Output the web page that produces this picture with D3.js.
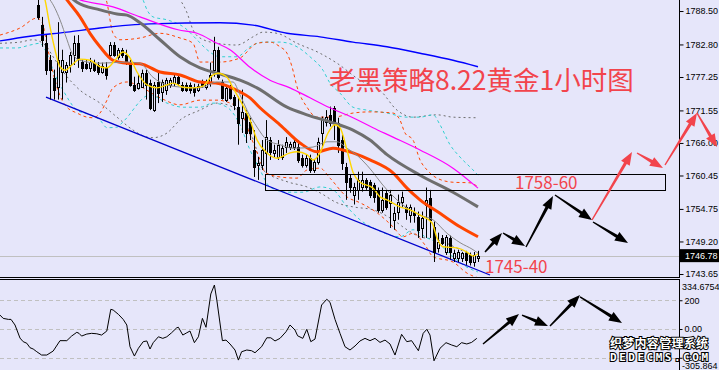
<!DOCTYPE html>
<html lang="zh">
<head>
<meta charset="UTF-8" />
<title>老黑策略8.22黄金1小时图</title>
<script src="https://cdn.jsdelivr.net/npm/d3@7"></script>
<style>
  body { margin: 0; background: #e6e6fa; }
  svg { display: block; font-family: "Liberation Sans", Arial, sans-serif; }
</style>
</head>
<body>
<svg id="chart" width="719" height="370"></svg>
<script>
// XAUUSD H1 candles, [open, high, low, close], bar 0 = first visible bar
const candles = [
  [1789.5,1791.5,1787.0,1787.5],[1786.1,1787.5,1782.4,1783.6],[1783.1,1784.4,1777.6,1778.5],[1780.2,1781.0,1773.4,1778.5],
  [1777.1,1778.5,1773.4,1775.1],[1775.6,1786.6,1773.4,1780.2],[1778.1,1781.9,1773.4,1780.2],[1778.1,1779.8,1776.3,1779.3],
  [1779.3,1781.5,1778.0,1781.0],[1781.0,1784.3,1779.3,1783.1],[1783.1,1784.4,1778.8,1780.5],[1779.8,1780.2,1778.1,1778.8],
  [1779.5,1780.2,1778.5,1778.8],[1778.8,1780.5,1778.1,1779.8],[1779.7,1780.2,1778.1,1778.5],[1779.3,1779.8,1777.6,1778.1],
  [1778.1,1779.7,1777.8,1779.2],[1779.0,1779.8,1776.8,1777.6],[1781.0,1783.2,1780.7,1782.7],[1782.7,1783.2,1780.7,1781.0],
  [1780.7,1782.2,1780.2,1781.9],[1781.9,1782.2,1780.5,1781.0],[1781.0,1781.9,1779.3,1779.8],[1779.7,1780.2,1775.6,1775.9],
  [1775.9,1777.3,1774.7,1775.1],[1775.4,1777.6,1775.1,1776.3],[1775.6,1778.5,1775.4,1778.0],[1778.0,1778.5,1773.4,1775.9],
  [1776.3,1776.8,1771.6,1772.0],[1771.6,1776.4,1771.3,1775.9],[1776.4,1778.0,1772.8,1774.5],[1774.7,1776.8,1773.0,1776.4],
  [1775.1,1777.1,1774.2,1776.8],[1775.9,1777.1,1775.4,1776.8],[1776.3,1777.6,1775.7,1777.3],[1777.3,1777.6,1775.7,1776.3],
  [1775.9,1776.4,1774.7,1775.1],[1775.9,1776.3,1774.7,1775.1],[1775.9,1776.3,1774.4,1775.1],[1775.6,1776.1,1773.9,1774.7],
  [1775.1,1776.1,1774.7,1775.7],[1776.4,1776.8,1775.4,1775.9],[1775.6,1776.8,1775.1,1776.3],[1776.3,1779.7,1775.6,1777.6],
  [1778.5,1784.1,1777.3,1781.9],[1781.9,1782.4,1776.8,1777.3],[1776.4,1776.8,1773.4,1773.7],[1773.4,1775.9,1773.0,1775.4],
  [1775.6,1775.9,1773.4,1773.7],[1773.9,1774.2,1771.6,1772.5],[1772.2,1773.9,1765.7,1769.4],[1770.3,1775.1,1767.7,1771.3],
  [1771.1,1771.6,1766.0,1767.7],[1769.6,1770.3,1766.5,1767.7],[1764.8,1768.2,1760.2,1761.9],[1762.3,1763.6,1759.7,1762.6],
  [1762.3,1766.5,1761.4,1764.8],[1764.3,1769.9,1760.9,1767.0],[1766.5,1767.0,1763.1,1764.5],[1764.3,1765.7,1763.6,1764.8],
  [1763.6,1766.5,1763.1,1765.7],[1763.6,1765.7,1763.1,1765.2],[1765.3,1767.0,1764.3,1766.2],[1765.3,1766.2,1764.8,1765.9],
  [1765.3,1766.5,1764.8,1766.2],[1765.3,1766.5,1762.6,1763.1],[1763.5,1764.0,1761.8,1762.3],[1762.3,1764.0,1761.8,1763.5],
  [1763.5,1764.0,1760.9,1761.4],[1761.4,1763.1,1760.9,1762.8],[1762.8,1766.9,1762.3,1766.2],[1767.7,1770.5,1765.3,1769.9],
  [1769.6,1771.6,1768.8,1770.5],[1770.8,1772.2,1768.8,1769.4],[1772.0,1772.3,1766.5,1769.4],[1769.4,1770.3,1764.3,1765.7],
  [1766.5,1767.4,1761.4,1762.6],[1761.9,1762.6,1756.3,1759.4],[1760.0,1760.6,1757.5,1758.5],[1757.2,1759.2,1755.5,1758.5],
  [1758.0,1761.1,1756.3,1759.7],[1758.5,1761.1,1757.7,1759.7],[1759.7,1760.0,1758.0,1758.5],[1759.4,1759.7,1756.6,1757.2],
  [1758.9,1759.2,1755.8,1756.8],[1758.0,1758.4,1754.1,1754.6],[1754.6,1758.4,1754.1,1756.3],[1757.5,1758.0,1754.6,1755.1],
  [1755.8,1758.0,1751.5,1757.2],[1752.9,1755.1,1751.2,1754.1],[1754.3,1757.2,1752.9,1756.0],[1756.0,1757.7,1755.1,1756.8],
  [1755.0,1755.5,1752.9,1754.3],[1753.7,1755.5,1752.4,1755.0],[1754.3,1755.0,1752.4,1753.7],[1753.4,1754.3,1749.8,1751.2],
  [1751.5,1754.3,1749.8,1753.2],[1755.5,1758.4,1749.8,1756.3],[1756.6,1758.0,1749.8,1752.9],[1751.7,1752.6,1745.7,1747.4],
  [1748.1,1750.7,1747.3,1749.1],[1749.8,1750.3,1748.6,1749.0],[1747.4,1750.3,1746.9,1750.0],[1749.8,1750.2,1746.1,1747.4],
  [1746.4,1747.8,1745.7,1747.3],[1746.4,1747.8,1745.7,1747.4],[1746.4,1747.4,1745.7,1747.3],[1747.3,1747.6,1745.2,1746.1],
  [1746.9,1747.3,1745.1,1745.7],[1745.7,1747.4,1744.9,1746.9],[1746.4,1747.6,1745.7,1746.78]
];
const lastPrice = 1746.78;
const priceRange = [1743.14, 1790.38];
const priceTicks = [1788.50, 1782.80, 1777.25, 1771.55, 1766.00, 1760.45, 1754.75, 1749.20, 1743.65];

// indicator lines, [bar, price]
const maYellow = [[1,1792.1],[1.75,1790.4],[3,1785.8],[4.25,1781.9],[5.5,1779.0],[6.75,1778.4],[8.5,1779.3],[10.5,1780.3],[13,1780.1],[15.5,1779.0],[17.25,1778.8],[19.25,1780.1],[21.25,1781.5],[23,1780.5],[24.75,1778.1],[27.25,1775.9],[29.75,1775.4],[32.25,1775.9],[33.75,1776.2],[36.25,1775.5],[38.75,1775.4],[41.25,1775.7],[43.75,1777.6],[45,1777.9],[47.25,1777.2],[48.75,1775.4],[50.5,1773.3],[53,1769.9],[54.75,1766.5],[57.25,1764.3],[59.75,1763.4],[63,1764.3],[64.75,1764.5],[67.25,1764.0],[68.75,1763.1],[70.5,1764.3],[72.5,1767.7],[74.25,1769.1],[75.5,1768.6],[77.25,1764.8],[78.75,1761.0],[80.5,1759.3],[83.75,1758.3],[85.5,1756.8],[87.25,1756.3],[90.5,1755.1],[93,1754.6],[95.5,1753.7],[98.5,1752.4],[99.75,1749.8],[101.25,1748.3],[104.75,1748.1],[107.25,1747.4],[108.75,1746.7],[110,1747.1]];
const maGreyThin = [[1.75,1791.2],[3,1790.4],[5.5,1787.0],[7.25,1783.6],[8.5,1781.3],[10.5,1780.1],[15.5,1779.6],[22.25,1779.8],[25.5,1779.6],[28.75,1777.2],[32.25,1775.9],[36.25,1775.5],[40.5,1775.4],[44.75,1776.4],[48.75,1776.4],[50.5,1774.2],[52.25,1771.6],[54.75,1768.7],[57.25,1766.5],[60.5,1765.7],[63.75,1765.1],[68.75,1765.3],[72.25,1766.2],[74.75,1766.2],[77.25,1765.1],[79.75,1763.9],[82.25,1762.2],[87.25,1758.0],[92.25,1754.9],[95.5,1753.7],[98.75,1752.9],[102.25,1750.6],[105.5,1749.0],[108.75,1747.8],[110,1747.2]];
const maOrange = [[5.5,1792.1],[7.25,1790.4],[10.5,1787.5],[13,1784.7],[15.5,1782.4],[18.75,1780.1],[22.25,1779.6],[25.5,1779.5],[30.5,1778.1],[35.5,1777.6],[40.5,1776.4],[45.5,1776.1],[50.5,1774.7],[53,1773.7],[55.5,1772.0],[60.5,1769.1],[65.5,1766.0],[69.75,1764.5],[73.75,1765.1],[76.25,1764.8],[78.75,1764.3],[83,1763.1],[88.75,1760.9],[92.25,1758.3],[95.5,1756.3],[100.5,1754.0],[105.5,1751.7],[110,1750.0]];
const maDarkGrey = [[6.75,1791.7],[9.75,1790.0],[15.5,1788.7],[19.75,1788.0],[22.25,1787.8],[25.5,1786.5],[30.5,1783.6],[35.5,1780.7],[40.5,1778.8],[44.75,1777.9],[50.5,1776.7],[54.75,1775.4],[62.25,1772.1],[67.25,1770.8],[73,1769.6],[78.75,1768.2],[83,1766.5],[87.25,1764.0],[95.5,1760.5],[103.75,1757.6],[110,1755.1]];
const maMagenta = [[5.5,1791.7],[10.5,1790.4],[18.75,1789.2],[25.5,1787.5],[35,1785.3],[39.75,1784.7],[44.75,1783.0],[48,1781.9],[53,1778.9],[58,1776.7],[63,1775.4],[68,1773.7],[73,1772.0],[78.75,1770.3],[83.75,1768.6],[88.75,1767.0],[95.5,1764.8],[103.75,1761.7],[110,1758.3]];
const maBlue = [[-9.5,1783.4],[-2,1784.2],[7.25,1784.9],[15.5,1785.6],[28,1786.3],[45.5,1786.5],[53.75,1786.1],[62.25,1784.7],[70.5,1784.1],[78.75,1783.2],[87.25,1782.4],[95.5,1781.3],[103.75,1780.1],[110,1779.0]];

// envelope bands (dashed)
const bandOrangeUp = [[16.75,1791.2],[17.25,1789.9],[18.75,1784.7],[20.5,1783.6],[25.5,1783.9],[30.5,1784.7],[35.5,1783.9],[38.75,1783.0],[40.5,1779.8],[45.5,1779.8],[50.5,1780.5],[54.75,1783.0],[58,1783.2],[60.5,1782.4],[62.25,1781.3],[63.5,1779.0],[64.75,1775.6],[67.25,1772.1],[69.75,1770.4],[73.75,1770.4],[78.75,1771.1],[83,1771.3],[88.75,1771.1],[90.5,1769.9],[91.75,1767.7],[93.75,1766.5],[95.5,1763.1],[97.25,1761.4],[99.75,1760.0],[103.75,1759.3],[108,1759.2],[110,1758.5]];
const bandOrangeLow = [[-9.5,1784.4],[-4.5,1785.6],[-0.25,1787.3],[1,1786.6],[2.5,1781.9],[4.25,1776.7],[6,1773.3],[7.25,1772.1],[9.75,1771.1],[12.25,1770.4],[13.75,1770.3],[15.5,1771.1],[17.25,1773.3],[18.75,1775.4],[22.25,1776.4],[24.75,1775.9],[30.5,1773.7],[35.5,1772.5],[40.5,1773.3],[44.75,1773.3],[47.25,1773.0],[50.5,1771.6],[53,1767.4],[55.5,1763.1],[56.75,1761.0],[60.5,1760.2],[64.75,1760.0],[67.25,1761.4],[70.5,1761.7],[73,1760.0],[77.25,1756.8],[80.5,1755.8],[84.75,1754.1],[88.75,1751.7],[91.25,1750.0],[93.75,1750.6],[96.75,1748.6],[98.75,1746.6],[103.75,1745.7],[107.25,1743.8],[110,1743.0]];
const bandCyanUp = [[25.5,1791.2],[26.25,1790.4],[27.25,1788.7],[28.75,1787.5],[32.25,1787.0],[36.75,1785.6],[39.75,1783.6],[42.25,1781.9],[45.5,1780.7],[49.75,1780.7],[53,1782.4],[56.25,1783.2],[60.5,1783.2],[64.75,1782.4],[68,1780.7],[71.25,1778.4],[73,1776.2],[75.5,1774.5],[78.75,1772.1],[82.25,1771.6],[87.25,1771.1],[92.25,1770.4],[95.5,1770.4],[98.75,1770.8],[100.5,1769.1],[103,1765.7],[105.5,1763.6],[108.75,1761.4],[110,1760.5]];
const bandCyanLow = [[-9.5,1782.2],[-5.25,1782.2],[-2,1782.7],[0.5,1783.0],[1.75,1781.9],[4.25,1777.6],[6.25,1775.0],[9.75,1771.6],[13,1770.8],[15.5,1769.9],[17.25,1768.6],[19.75,1768.7],[21.25,1769.6],[28,1774.2],[32.25,1772.8],[36.25,1772.1],[40.5,1772.1],[43.75,1772.8],[47.25,1772.1],[50.5,1769.1],[53,1764.8],[55.5,1761.4],[58,1758.5],[62.25,1757.6],[66.25,1757.6],[70.5,1758.5],[73.75,1758.0],[77.25,1755.1],[80.5,1752.9],[84.75,1751.2],[90.5,1750.0],[93.75,1751.2],[97.25,1749.8],[99.75,1749.0],[103.75,1746.6],[107.25,1744.8],[110,1744.0]];
const bandGreyUp = [[34.25,1791.2],[35.5,1790.4],[37.25,1788.2],[38.75,1785.3],[40.5,1783.9],[44.75,1783.0],[49.75,1782.7],[53.75,1784.1],[56.25,1784.9],[59.75,1784.7],[64.75,1783.0],[70.5,1781.3],[74.75,1779.6],[80.5,1776.7],[85.5,1775.0],[89.75,1771.6],[93.75,1770.4],[99.75,1770.8],[103.75,1770.4],[109.75,1770.3]];
const bandGreyLow = [[-9.5,1783.0],[-4.5,1783.2],[-1.25,1783.6],[1.75,1782.7],[4.25,1780.2],[7.25,1777.3],[10.5,1775.0],[15.5,1772.8],[19.75,1770.4],[23.75,1768.2],[27.25,1767.0],[28.75,1766.9],[32.25,1767.7],[35.5,1769.9],[40.5,1771.6],[44.75,1772.8],[48.75,1772.1],[51.75,1769.9],[54.25,1765.7],[56.25,1761.4],[62.25,1759.4],[67.25,1758.5],[70.5,1757.5],[74.75,1755.8],[78.75,1755.1],[83.75,1754.6],[88.75,1752.9],[92.25,1751.2],[95.5,1750.0],[99.75,1749.5],[105.5,1747.8],[108.75,1746.6],[110,1746.2]];

// CCI sub window, [bar, value]
const cci = [[-9.5,97],[-8.7,74],[-7.4,67],[-6.75,67],[-5.75,28],[-4.5,-63],[-3.7,-88],[-2.8,-99],[-2,-130],[-1.2,-139],[-0.3,-158],[0.9,-181],[2.2,-181],[3.8,-153],[5.5,-81],[7.2,-81],[8.4,-49],[9.7,-23],[10.25,-30],[10.9,-49],[12.2,-35],[13.4,-30],[14.7,-33],[15.9,-42],[17.2,-14],[18.2,137],[18.8,132],[20.1,102],[21.3,67],[22.2,28],[23,-123],[24.1,-188],[25.1,-134],[26.3,-88],[27.2,-83],[28,-139],[28.8,-95],[30.1,-54],[31.2,-65],[32.2,-54],[33.4,-26],[34.7,9],[35.1,12],[36.2,-42],[37.2,-26],[38,-14],[39.1,-95],[40.1,-54],[41.1,74],[42,12],[43.2,244],[44.1,306],[44.7,202],[46.1,-81],[47,-77],[48,-104],[49.25,-146],[50.1,-216],[50.9,-158],[52.2,-146],[53.4,-151],[54.25,-165],[55.9,-123],[57.2,-61],[58.2,-61],[59.25,-83],[60.5,-65],[62,-19],[63,28],[64.25,-7],[64.9,-47],[66.2,-65],[67.2,-2],[68.2,-88],[69.25,-70],[70.9,167],[72.2,207],[73,186],[74.25,67],[75.5,-30],[76.75,-123],[78,-146],[79.25,-118],[80.5,-83],[81.75,-65],[83,-81],[84.25,-65],[85.5,-93],[86.75,-77],[88,-104],[89.25,-181],[90.9,-37],[92.2,-88],[93.4,-81],[95.1,-151],[96.3,-30],[97.2,-2],[98,-42],[99,-221],[100.5,-134],[102,-95],[103.4,-111],[104.7,-123],[105.9,-95],[107.2,-104],[108.4,-93],[109.7,-65]];
const cciRange = [-305.864, 334.6754];
const cciTicks = [200, 0, -200];

// drawings: channel line, zone box, arrows [bar1, price1, bar2, price2]
const channel = [[2, 1773.83], [113, 1743.48]];
const zone = { bars: [56.75, 156.75], prices: [1757.9, 1760.7] };
const blackArrows = [[111.75,1747.4,116,1750.64],[116.25,1750.64,121.75,1748.42],[122,1748.26,128.75,1756.95],[129.25,1757.12,138.5,1752.86],[138.75,1752.52,147.5,1748.94]];
const redArrows = [[138.5,1752.86,148.5,1764.46],[149.75,1764.29,156.25,1761.73],[156.75,1762.24,164.75,1771.11],[164.75,1771.11,169.75,1765.3]];
const cciArrows = [[111.25,-104,120.25,104],[121,97,127.5,21],[128,21,135.5,237],[135.5,223,146,42]];

const W = 719, H = 370, plotRight = 679, mainBottom = 277;
const bg = "#e6e6fa", red = "#f2444c";

const svg = d3.select("#chart");
svg.append("rect").attr("width", W).attr("height", H).attr("fill", bg);

const x = d3.scaleLinear().domain([0, 110]).range([38, 478]);
const y = d3.scaleLinear().domain(priceRange).range([mainBottom, 0]);
const yc = d3.scaleLinear().domain(cciRange).range([373, 280.9]);

const defs = svg.append("defs");
defs.append("clipPath").attr("id", "clipMain")
  .append("rect").attr("x", 0).attr("y", 0).attr("width", plotRight).attr("height", mainBottom);
defs.append("clipPath").attr("id", "clipCci")
  .append("rect").attr("x", 0).attr("y", 280).attr("width", plotRight).attr("height", 95);

const main = svg.append("g").attr("clip-path", "url(#clipMain)");

// current price line
main.append("line")
  .attr("x1", 0).attr("x2", plotRight)
  .attr("y1", Math.round(y(lastPrice)) + 0.5).attr("y2", Math.round(y(lastPrice)) + 0.5)
  .attr("stroke", "#c0c0c0");

const line = d3.line().x(d => x(d[0])).y(d => y(d[1])).curve(d3.curveMonotoneX);

// dashed bands
[
  [bandGreyUp, "#6e6e6e", "2,3"], [bandGreyLow, "#6e6e6e", "2,3"],
  [bandCyanUp, "#30d0d0", "3,3"], [bandCyanLow, "#30d0d0", "3,3"],
  [bandOrangeUp, "#ff4500", "3,3"], [bandOrangeLow, "#ff4500", "3,3"]
].forEach(([d, c, dash]) => {
  main.append("path").attr("d", line(d)).attr("fill", "none")
    .attr("stroke", c).attr("stroke-width", 1).attr("stroke-dasharray", dash);
});

// channel line
main.append("line")
  .attr("x1", x(channel[0][0])).attr("y1", y(channel[0][1]))
  .attr("x2", x(channel[1][0])).attr("y2", y(channel[1][1]))
  .attr("stroke", "#0000cd").attr("stroke-width", 1.3);

// candles
const cg = main.append("g");
candles.forEach((c, i) => {
  const [o, h, l, cl] = c;
  const cx = Math.round(x(i));
  cg.append("line")
    .attr("x1", cx + 0.5).attr("x2", cx + 0.5)
    .attr("y1", y(h)).attr("y2", y(l))
    .attr("stroke", "#000");
  const top = Math.round(y(Math.max(o, cl))), bot = Math.round(y(Math.min(o, cl)));
  cg.append("rect")
    .attr("x", cx - 0.5).attr("y", top + 0.5)
    .attr("width", 2).attr("height", Math.max(bot - top, 1))
    .attr("fill", cl < o ? "#000" : bg)
    .attr("stroke", "#000");
});

// moving averages
[
  [maBlue, "#0000ff", 1.4], [maMagenta, "#ff00ff", 1.2], [maDarkGrey, "#6e6e6e", 3],
  [maOrange, "#ff4500", 3], [maGreyThin, "#8a8a8a", 1], [maYellow, "#ffd700", 1.4]
].forEach(([d, c, w]) => {
  main.append("path").attr("d", line(d)).attr("fill", "none")
    .attr("stroke", c).attr("stroke-width", w);
});

// zone rectangle
svg.append("rect")
  .attr("x", Math.round(x(zone.bars[0])) + 0.5).attr("y", Math.round(y(zone.prices[1])) + 0.5)
  .attr("width", Math.round(x(zone.bars[1]) - x(zone.bars[0])))
  .attr("height", Math.round(y(zone.prices[0]) - y(zone.prices[1])))
  .attr("fill", "none").attr("stroke", "#000");

// panel borders
svg.append("line").attr("x1", 0).attr("x2", plotRight).attr("y1", 277.5).attr("y2", 277.5).attr("stroke", "#000");
svg.append("line").attr("x1", 0).attr("x2", plotRight).attr("y1", 279.5).attr("y2", 279.5).attr("stroke", "#000");

// price axis
const ax = svg.append("g").attr("transform", `translate(${plotRight + 0.5},0)`)
  .call(d3.axisRight(y).tickValues(priceTicks).tickFormat(d3.format(".2f")).tickSize(4).tickSizeOuter(0).tickPadding(2));
ax.select(".domain").attr("d", `M0,0V${mainBottom + 1}`);
ax.selectAll("text").attr("font-size", 9).attr("font-family", "Liberation Sans, Arial, sans-serif").attr("fill", "#000");

// last price tag
const ly = y(lastPrice);
svg.append("rect").attr("x", 680).attr("y", ly - 6.5).attr("width", 40).attr("height", 13).attr("fill", "#000");
svg.append("text").attr("x", 685).attr("y", ly).attr("dy", "0.35em")
  .attr("font-size", 9).attr("fill", "#fff")
  .text(d3.format(".2f")(lastPrice));

// CCI panel
const sub = svg.append("g").attr("clip-path", "url(#clipCci)");
cciTicks.forEach(v => {
  sub.append("line").attr("x1", 0).attr("x2", plotRight)
    .attr("y1", Math.round(yc(v)) + 0.5).attr("y2", Math.round(yc(v)) + 0.5)
    .attr("stroke", "#c0c0c0").attr("stroke-dasharray", "4,3");
});
sub.append("path")
  .attr("d", d3.line().x(d => x(d[0])).y(d => yc(d[1]))(cci))
  .attr("fill", "none").attr("stroke", "#000").attr("stroke-width", 1);

const cax = svg.append("g").attr("transform", `translate(${plotRight + 0.5},0)`)
  .call(d3.axisRight(yc).tickValues(cciTicks).tickFormat(d => d === 0 ? "0.00" : d).tickSize(3).tickSizeOuter(0).tickPadding(2));
cax.select(".domain").attr("d", `M0,279V${H}`);
cax.selectAll("text").attr("font-size", 9).attr("font-family", "Liberation Sans, Arial, sans-serif").attr("fill", "#000");
svg.append("text").attr("x", 682).attr("y", 287).attr("dy", "0.35em").attr("font-size", 9).text(cciRange[1]);
svg.append("text").attr("x", 682).attr("y", 366).attr("dy", "0.35em").attr("font-size", 9).text(cciRange[0]);

// arrows
function arrow(x1, y1, x2, y2, color) {
  const dx = x2 - x1, dy = y2 - y1, len = Math.hypot(dx, dy);
  const ux = dx / len, uy = dy / len, nx = -uy, ny = ux;
  const hl = 13, hw = 5, w0 = 0.7, w1 = 1.6;
  const bx = x2 - ux * hl, by = y2 - uy * hl;
  const pts = [
    [x1 + nx * w0, y1 + ny * w0], [bx + nx * w1, by + ny * w1], [bx + nx * hw, by + ny * hw],
    [x2, y2],
    [bx - nx * hw, by - ny * hw], [bx - nx * w1, by - ny * w1], [x1 - nx * w0, y1 - ny * w0]
  ];
  svg.append("polygon").attr("points", pts.map(p => p.join(",")).join(" ")).attr("fill", color);
}
blackArrows.forEach(a => arrow(x(a[0]), y(a[1]), x(a[2]), y(a[3]), "#000"));
redArrows.forEach(a => arrow(x(a[0]), y(a[1]), x(a[2]), y(a[3]), red));
cciArrows.forEach(a => arrow(x(a[0]), yc(a[1]), x(a[2]), yc(a[3]), "#000"));

// annotations
const cjk = "'Noto Sans CJK SC', 'Noto Sans', sans-serif";
svg.append("text").attr("x", 329).attr("y", 90).attr("font-family", cjk).attr("font-size", 26.5)
  .attr("fill", red).text("老黑策略8.22黄金1小时图");
svg.append("text").attr("x", 515).attr("y", 189).attr("font-family", cjk).attr("font-size", 17)
  .attr("fill", red).text("1758-60");
svg.append("text").attr("x", 485).attr("y", 273).attr("font-family", cjk).attr("font-size", 17)
  .attr("fill", red).text("1745-40");

// watermark
svg.append("text").attr("x", 610).attr("y", 348).attr("font-family", cjk).attr("font-size", 12)
  .attr("font-weight", "bold").attr("fill", "#fff").attr("stroke", "#000").attr("stroke-width", 2)
  .attr("paint-order", "stroke").attr("textLength", 98).attr("lengthAdjust", "spacing")
  .text("织梦内容管理系统");
svg.append("text").attr("x", 610).attr("y", 361).attr("font-family", "'DejaVu Sans Mono', monospace").attr("font-size", 11)
  .attr("font-weight", "bold").attr("fill", "#fff").attr("stroke", "#000").attr("stroke-width", 2)
  .attr("paint-order", "stroke").attr("textLength", 98).attr("lengthAdjust", "spacing")
  .text("DEDECMS.COM");
</script>
</body>
</html>
